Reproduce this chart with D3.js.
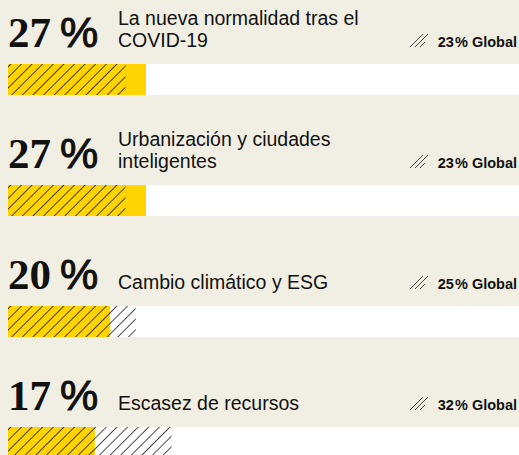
<!DOCTYPE html>
<html>
<head>
<meta charset="utf-8">
<style>
  body { margin:0; background:#f1efe3; }
  svg { display:block; }
</style>
</head>
<body>
<div id="chart"></div>
<script src="https://d3js.org/d3.v7.min.js"></script>
<script>
// data
var categories = ["La nueva normalidad tras el\nCOVID-19", "Urbanización y ciudades\ninteligentes", "Cambio climático y ESG", "Escasez de recursos"];
var values = [27, 27, 20, 17];
var globalValues = [23, 23, 25, 32];

var width = 519, height = 455;

var svg = d3.select("#chart").append("svg")
    .attr("width", width)
    .attr("height", height);

// hatch pattern
var defs = svg.append("defs");
defs.append("pattern")
    .attr("id", "hatch")
    .attr("patternUnits", "userSpaceOnUse")
    .attr("width", 7.5)
    .attr("height", 7.5)
    .attr("patternTransform", "rotate(45)")
  .append("line")
    .attr("x1", 0).attr("y1", 0)
    .attr("x2", 0).attr("y2", 7.5)
    .attr("stroke", "#111")
    .attr("stroke-width", 1.5);

var x = d3.scaleLinear().domain([0, 100]).range([8, 519]);
var y = d3.scaleBand().domain(categories).range([0, 484]);

var row = svg.selectAll("g.row")
    .data(categories)
    .enter().append("g")
    .attr("class", "row")
    .attr("transform", function(d) { return "translate(0," + y(d) + ")"; });

// track
row.append("rect")
    .attr("x", x(0))
    .attr("y", 64)
    .attr("width", x(100) - x(0))
    .attr("height", 31)
    .attr("fill", "#fff");

// value bar
row.append("rect")
    .attr("x", x(0))
    .attr("y", 64)
    .attr("width", function(d, i) { return x(values[i]) - x(0); })
    .attr("height", 31)
    .attr("fill", "#ffd400");

// global hatch
row.append("rect")
    .attr("x", x(0))
    .attr("y", 64)
    .attr("width", function(d, i) { return x(globalValues[i]) - x(0); })
    .attr("height", 31)
    .attr("fill", "url(#hatch)");

// big number
var num = row.append("text")
    .attr("x", 8)
    .attr("y", 47)
    .attr("fill", "#111");
num.append("tspan")
    .style("font-family", "'Liberation Serif', serif")
    .style("font-weight", "bold")
    .style("font-size", "43px")
    .text(function(d, i) { return values[i]; });
num.append("tspan")
    .attr("dx", 9)
    .attr("stroke", "#111")
    .attr("stroke-width", 1)
    .style("font-family", "'Liberation Sans', sans-serif")
    .style("font-size", "43px")
    .text("%");

// label
row.append("text")
    .attr("x", 118)
    .attr("fill", "#111")
    .style("font-family", "'Liberation Sans', sans-serif")
    .style("font-size", "19.5px")
    .each(function(d) {
        var lines = d.split("\n");
        var t = d3.select(this);
        lines.forEach(function(l, j) {
            t.append("tspan")
                .attr("x", 118)
                .attr("y", 47 - (lines.length - 1 - j) * 22)
                .text(l);
        });
    });

// global icon
row.append("path")
    .attr("d", "M410,47L423,34M415,47L428,34M420,47L425,42")
    .attr("stroke", "#444")
    .attr("stroke-width", 1)
    .attr("fill", "none");

// global text
row.append("text")
    .attr("x", 517)
    .attr("y", 47)
    .attr("text-anchor", "end")
    .attr("fill", "#111")
    .style("font-family", "'Liberation Sans', sans-serif")
    .style("font-weight", "bold")
    .style("font-size", "14.5px")
    .text(function(d, i) { return globalValues[i] + "\u200a% Global"; });
</script>
</body>
</html>
